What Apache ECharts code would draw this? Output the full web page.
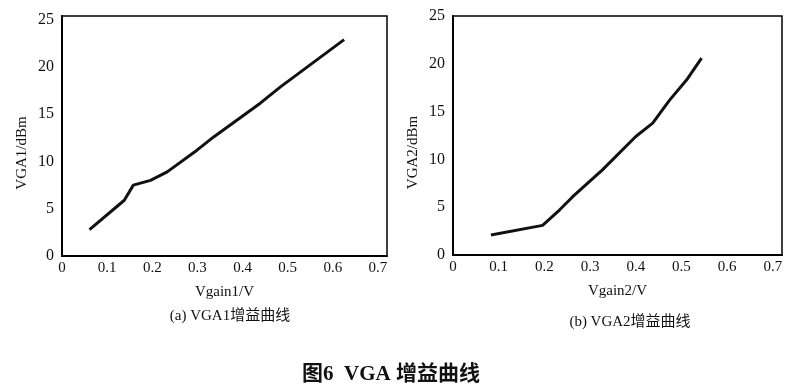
<!DOCTYPE html>
<html>
<head>
<meta charset="utf-8">
<script src="https://cdn.jsdelivr.net/npm/echarts@6/dist/echarts.min.js"></script>
<style>html,body{margin:0;padding:0;background:#fff}#c{width:800px;height:388px}</style>
</head>
<body>
<div id="c"></div>
<script>
// VGA1 gain curve (panel a)
const vgain1 = [0.061, 0.138, 0.158, 0.196, 0.233, 0.299, 0.336, 0.440, 0.484, 0.625];
const vga1dBm = [2.8, 5.9, 7.5, 8.0, 8.9, 11.2, 12.6, 16.2, 17.9, 22.9];
// VGA2 gain curve (panel b)
const vgain2 = [0.083, 0.196, 0.233, 0.262, 0.327, 0.400, 0.437, 0.474, 0.511, 0.544];
const vga2dBm = [2.1, 3.1, 4.7, 6.1, 8.9, 12.4, 13.8, 16.2, 18.3, 20.6];
const yTicks = [0, 5, 10, 15, 20, 25];
const xTicks = [0, 0.1, 0.2, 0.3, 0.4, 0.5, 0.6, 0.7];
const xNames = ['Vgain1/V', 'Vgain2/V'];
const yNames = ['VGA1/dBm', 'VGA2/dBm'];
const subTitles = ['(a) VGA1增益曲线', '(b) VGA2增益曲线'];
const caption = '图6  VGA 增益曲线';

const serif = "'Liberation Serif', 'DejaVu Serif', 'Noto Sans CJK SC', serif";
const chart = echarts.init(document.getElementById('c'));
const pair = (xs, ys) => xs.map((x, i) => [x, ys[i]]);

function xAxis(idx, name) {
  return {
    type: 'value', gridIndex: idx, min: 0, max: 0.72, interval: 0.1,
    name: name, nameLocation: 'middle', nameGap: 29,
    nameTextStyle: { fontFamily: serif, fontSize: 15, color: '#111' },
    axisLine: { show: true, lineStyle: { color: '#000', width: 2 } },
    axisTick: { show: false },
    splitLine: { show: false },
    axisLabel: {
      showMaxLabel: false, fontFamily: serif, fontSize: 15, color: '#111', margin: 5,
      formatter: v => xTicks.indexOf(Math.round(v * 10) / 10) >= 0 ? (v === 0 ? '0' : v.toFixed(1)) : ''
    }
  };
}
function yAxis(idx, name, max) {
  return {
    type: 'value', gridIndex: idx, min: 0, max: max, interval: 5,
    name: name, nameLocation: 'middle', nameGap: 32,
    nameTextStyle: { fontFamily: serif, fontSize: 15, color: '#111', padding: [0, 34, 0, 0] },
    axisLine: { show: true, lineStyle: { color: '#000', width: 2 } },
    axisTick: { show: false },
    splitLine: { show: false },
    axisLabel: {
      showMaxLabel: max === 25, fontFamily: serif, fontSize: 16, color: '#111', margin: 8,
      formatter: v => yTicks.indexOf(v) >= 0 ? String(v) : ''
    }
  };
}

chart.setOption({
  animation: false,
  backgroundColor: '#fff',
  grid: [
    { left: 62, top: 16, width: 325, height: 240, show: true, borderColor: '#000', borderWidth: 1.5, backgroundColor: 'transparent' },
    { left: 453, top: 16, width: 329, height: 239, show: true, borderColor: '#000', borderWidth: 1.5, backgroundColor: 'transparent' }
  ],
  xAxis: [xAxis(0, xNames[0]), xAxis(1, xNames[1])],
  yAxis: [yAxis(0, yNames[0], 25.4), yAxis(1, yNames[1], 25)],
  title: [
    { text: subTitles[0], left: 225, top: 304, textAlign: 'center',
      textStyle: { fontFamily: serif, fontSize: 15, fontWeight: 'normal', color: '#111' } },
    { text: subTitles[1], left: 625, top: 310, textAlign: 'center',
      textStyle: { fontFamily: serif, fontSize: 15, fontWeight: 'normal', color: '#111' } },
    { text: caption, left: 386, top: 359, textAlign: 'center',
      textStyle: { fontFamily: serif, fontSize: 21, fontWeight: 'bold', color: '#111' } }
  ],
  series: [
    { type: 'line', xAxisIndex: 0, yAxisIndex: 0, data: pair(vgain1, vga1dBm), showSymbol: false,
      lineStyle: { color: '#111', width: 3 } },
    { type: 'line', xAxisIndex: 1, yAxisIndex: 1, data: pair(vgain2, vga2dBm), showSymbol: false,
      lineStyle: { color: '#111', width: 3 } }
  ]
});
</script>
</body>
</html>
